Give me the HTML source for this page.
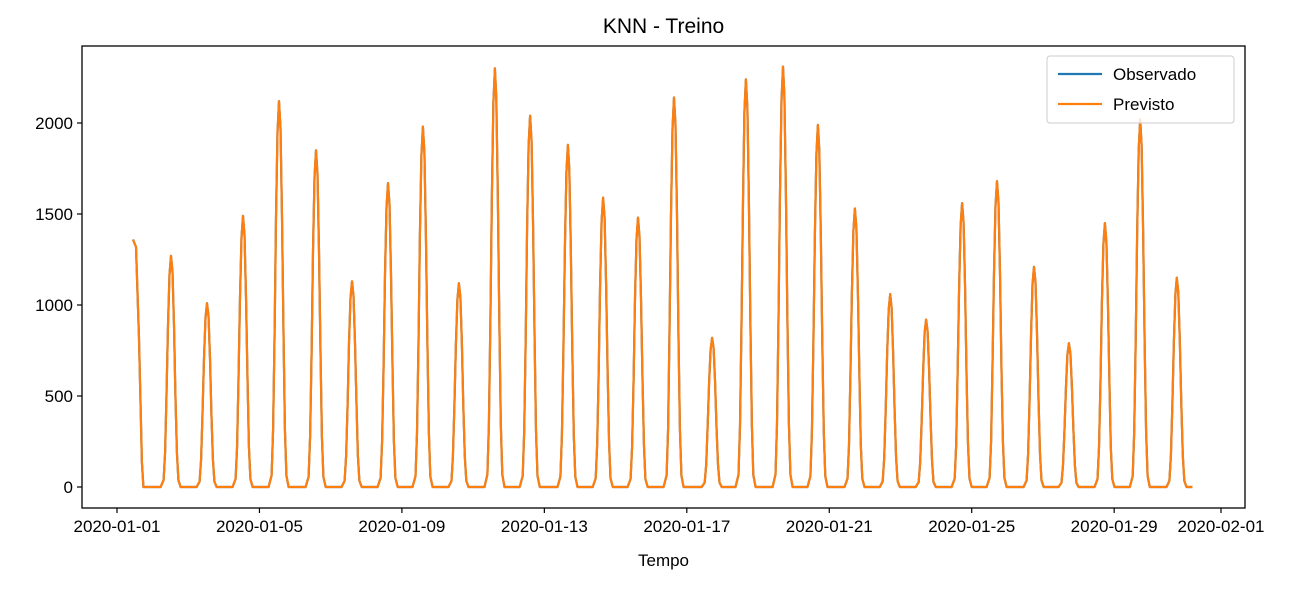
<!DOCTYPE html>
<html><head><meta charset="utf-8"><style>
body{margin:0;background:#fff;}
svg text{font-family:"Liberation Sans","DejaVu Sans",sans-serif;fill:#000;}
</style></head><body>
<svg id="chart" width="1306" height="586" viewBox="0 0 1306 586" xmlns="http://www.w3.org/2000/svg">
<rect width="1306" height="586" fill="#fff"/>
<text x="663.5" y="33" font-size="21" text-anchor="middle">KNN - Treino</text>
<g id="plot"></g>
<rect x="82" y="46" width="1163" height="462" fill="none" stroke="#000" stroke-width="1.3"/>
<text x="663.5" y="566" font-size="17" text-anchor="middle">Tempo</text>
<g>
<rect x="1047" y="56" width="187" height="67" rx="3" fill="#fff" fill-opacity="0.8" stroke="#ccc"/>
<line x1="1058" y1="74" x2="1102" y2="74" stroke="#1f77b4" stroke-width="2.2"/>
<text x="1113" y="80" font-size="17">Observado</text>
<line x1="1058" y1="104" x2="1102" y2="104" stroke="#ff7f0e" stroke-width="2.2"/>
<text x="1113" y="110" font-size="17">Previsto</text>
</g>
</svg>
<script>
const firstValue=1360;
const peakTimes=[1.516,2.527,3.538,4.549,5.588,6.599,7.61,8.59,9.60,10.61,11.60,12.66,13.65,14.63,15.64,16.71,17.66,18.70,19.68,20.72,21.71,22.72,23.73,24.71,25.75,26.73,27.74,28.73,29.76];
const peakValues=[1270,1010,1490,2120,1850,1130,1670,1980,1120,2300,2040,1880,1590,1480,2140,820,2240,2310,1990,1530,1060,920,1560,1680,1210,790,1450,2020,1150];
const hourProfile=[0.03,0.15,0.4,0.7,0.92,1,0.93,0.7,0.4,0.15,0.03];
const yTicks=[0,500,1000,1500,2000];
const xTickLabels=["2020-01-01","2020-01-05","2020-01-09","2020-01-13","2020-01-17","2020-01-21","2020-01-25","2020-01-29","2020-02-01"];
const xTickDays=[0,4,8,12,16,20,24,28,31];
const L=82,R=1245,T=46,B=508;
const xs=d=>117+d*(1104/31);
const ys=v=>487-v*0.182;
const NS="http://www.w3.org/2000/svg";
const svg=document.getElementById('chart');
const plot=document.getElementById('plot');
function mk(t,a,p){const e=document.createElementNS(NS,t);for(const k in a)e.setAttribute(k,a[k]);(p||svg).appendChild(e);return e;}
const H=1/24;
const pts=[[0.45,firstValue],[0.45+2*H,firstValue*0.97],[0.45+4*H,firstValue*0.6],[0.45+6*H,firstValue*0.1],[0.45+7*H,0]];
const half=(hourProfile.length-1)/2;
peakTimes.forEach((pt,i)=>{
  pts.push([pt-(half+2)*H,0]);
  hourProfile.forEach((f,j)=>pts.push([pt+(j-half)*H,peakValues[i]*f]));
  pts.push([pt+(half+1.5)*H,0]);
});
pts.push([30.2,0]);
const dstr=pts.map((p,i)=>(i?'L':'M')+xs(p[0]).toFixed(1)+','+ys(p[1]).toFixed(1)).join('');
const obs=mk('path',{d:dstr,fill:'none',stroke:'#1f77b4','stroke-width':2.2,'stroke-linejoin':'round'},plot);


const prev=mk('path',{d:dstr,fill:'none',stroke:'#ff7f0e','stroke-width':2.2,'stroke-linejoin':'round'},plot);


yTicks.forEach(v=>{
  const y=ys(v);
  mk('line',{x1:L-5,x2:L,y1:y,y2:y,stroke:'#000','stroke-width':1.2});
  const t=mk('text',{x:L-9,y:y+6,'font-size':17,'text-anchor':'end'});
  t.textContent=v;
  
  
});
xTickDays.forEach((d,i)=>{
  const x=xs(d);
  mk('line',{x1:x,x2:x,y1:B,y2:B+5,stroke:'#000','stroke-width':1.2});
  const t=mk('text',{x:x,y:B+24,'font-size':17,'text-anchor':'middle'});
  t.textContent=xTickLabels[i];
  
  
});
</script>
</body></html>
